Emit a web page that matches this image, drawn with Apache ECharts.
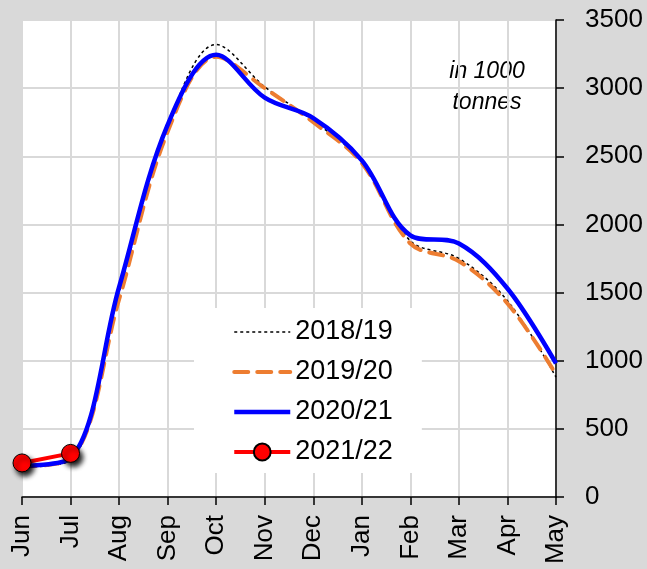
<!DOCTYPE html>
<html><head><meta charset="utf-8">
<script src="https://cdn.jsdelivr.net/npm/echarts@6/dist/echarts.min.js"></script>
<style>html,body{margin:0;padding:0;background:#d9d9d9;}#c{width:647px;height:569px;}</style>
</head><body><div id="c"></div>
<script>
const months = ['Jun','Jul','Aug','Sep','Oct','Nov','Dec','Jan','Feb','Mar','Apr','May'];
const s2018 = [220, 270, 1500, 2720, 3320, 3010, 2760, 2460, 1880, 1750, 1440, 880];
const s2019 = [225, 280, 1450, 2680, 3230, 3000, 2750, 2450, 1860, 1730, 1420, 900];
const s2020 = [230, 285, 1540, 2730, 3245, 2930, 2780, 2470, 1920, 1860, 1530, 980];
const s2021 = [250, 320];
const yTicks = [0, 500, 1000, 1500, 2000, 2500, 3000, 3500];
const names = ['2018/19','2019/20','2020/21','2021/22'];

const chart = echarts.init(document.getElementById('c'));
const gridColor = '#d9d9d9';
const hideSym = {opacity: 0};
chart.setOption({
  backgroundColor: '#d9d9d9',
  animation: false,
  grid: {left: 22, right: 91, top: 20, bottom: 72, show: true, backgroundColor: '#ffffff', borderWidth: 0, outerBoundsMode: 'none'},
  legend: {
    data: [
      {name: names[0], itemStyle: hideSym, lineStyle: {width: 1.5}},
      {name: names[1], itemStyle: hideSym, lineStyle: {width: 4}},
      {name: names[2], itemStyle: hideSym, lineStyle: {width: 4.5}},
      {name: names[3], itemStyle: {shadowBlur: 0, shadowOffsetX: 0, shadowOffsetY: 0}, lineStyle: {width: 4}}
    ],
    orient: 'vertical', left: 194, top: 308,
    backgroundColor: '#ffffff', padding: [9, 29, 6, 38],
    itemWidth: 56, itemHeight: 21, itemGap: 10,
    textStyle: {fontFamily: 'Liberation Sans', fontSize: 27, color: '#000', lineHeight: 30}
  },
  xAxis: {
    type: 'category', data: months, boundaryGap: false,
    axisLine: {lineStyle: {color: '#000', width: 1.5}},
    axisTick: {show: true, interval: 0, length: 8, lineStyle: {color: '#000', width: 1.5}},
    axisLabel: {interval: 0, rotate: 90, margin: 18, fontFamily: 'Liberation Sans', fontSize: 26, color: '#000'},
    splitLine: {show: true, interval: 0, lineStyle: {color: gridColor, width: 2}}
  },
  yAxis: {
    type: 'value', position: 'right', min: yTicks[0], max: yTicks[yTicks.length-1], interval: 500,
    axisLine: {show: true, lineStyle: {color: '#000', width: 1.5}},
    axisTick: {show: true, length: 8, lineStyle: {color: '#000', width: 1.5}},
    axisLabel: {margin: 29, fontFamily: 'Liberation Sans', fontSize: 26, color: '#000', formatter: v => String(v)},
    splitLine: {show: true, lineStyle: {color: gridColor, width: 2}}
  },
  graphic: [
    {type: 'text', x: 487, y: 72, style: {text: 'in 1000', font: 'italic 23px "Liberation Sans"', fill: '#000', align: 'center', verticalAlign: 'middle'}},
    {type: 'text', x: 487, y: 103, style: {text: 'tonnes', font: 'italic 23px "Liberation Sans"', fill: '#000', align: 'center', verticalAlign: 'middle'}}
  ],
  series: [
    {name: names[0], type: 'line', data: s2018, smooth: 0.35, symbol: 'none', z: 2,
     lineStyle: {color: '#000000', width: 1.5, type: [3, 3]}, itemStyle: {color: '#000'}},
    {name: names[1], type: 'line', data: s2019, smooth: 0.35, symbol: 'none', z: 3,
     lineStyle: {color: '#ed7d31', width: 4, type: [14, 9], cap: 'round'}, itemStyle: {color: '#ed7d31'}},
    {name: names[2], type: 'line', data: s2020, smooth: 0.35, symbol: 'none', z: 4,
     lineStyle: {color: '#0000ff', width: 4.5}, itemStyle: {color: '#0000ff'}},
    {name: names[3], type: 'line', data: s2021, smooth: false, symbol: 'circle', symbolSize: 18, z: 5,
     lineStyle: {color: '#ff0000', width: 4},
     itemStyle: {color: '#ff0000', borderColor: '#000', borderWidth: 1, shadowBlur: 5, shadowColor: 'rgba(0,0,0,0.9)', shadowOffsetX: 3, shadowOffsetY: 4}}
  ]
});
</script></body></html>
